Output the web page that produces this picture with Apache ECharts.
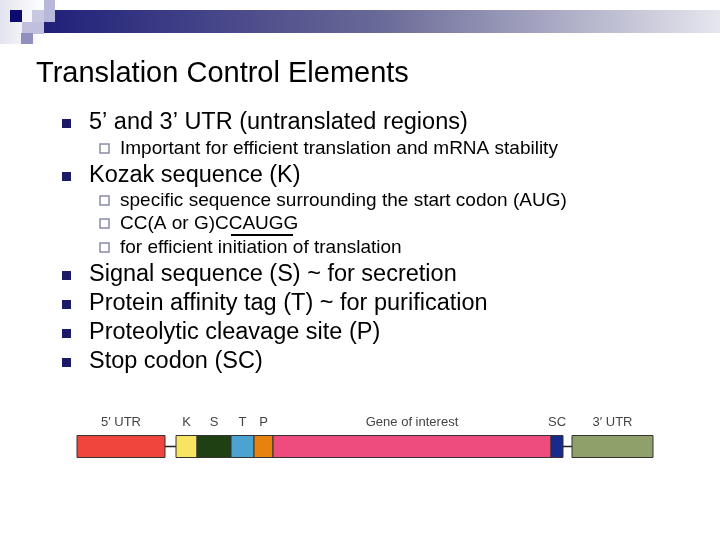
<!DOCTYPE html><html><head><meta charset="utf-8">
<script src="https://cdn.jsdelivr.net/npm/echarts@6/dist/echarts.min.js"></script>
<style>html,body{margin:0;background:#fff}#c{width:720px;height:540px}</style></head><body><div id="c"></div>
<script>
const segNames=["5′ UTR","","K","S","T","P","Gene of interest","SC","","3′ UTR"];
const segLengths=[88,11,21,34,23,19,278,12,9,81];
const segColors=["#f0453c",null,"#f7e463","#1f4012","#4aa3d0","#e8820e","#ee4b7f","#1a2a8c",null,"#8fa06b"];
const bullets1=[["5’ and 3’ UTR (untranslated regions)",123],["Kozak sequence (K)",176],["Signal sequence (S) ~ for secretion",275],["Protein affinity tag (T) ~ for purification",304],["Proteolytic cleavage site (P)",333],["Stop codon (SC)",362]];
const bullets2=[["Important for efficient translation and mRNA stability",149],["specific sequence surrounding the start codon (AUG)",201],["CC(A or G)CCAUGG",224],["for efficient initiation of translation",248]];
let acc=0;const segData=segLengths.map((l,i)=>{const d=[acc,acc+l,i];acc+=l;return d;});
const total=acc;
const F='"Liberation Sans",Arial,sans-serif';
const g=[];
g.push({type:'rect',shape:{x:44,y:10,width:676,height:23},style:{fill:new echarts.graphic.LinearGradient(0,0,1,0,[{offset:0,color:'#20207a'},{offset:0.5,color:'#6a6a98'},{offset:1,color:'#e6e6ee'}])}});
g.push({type:'rect',shape:{x:0,y:0,width:44,height:44},style:{fill:new echarts.graphic.LinearGradient(0,0,1,0,[{offset:0,color:'#e4e4f0'},{offset:1,color:'#ffffff'}])}});
g.push({type:'rect',shape:{x:10,y:10,width:12,height:12},style:{fill:'#0c0c70'}});
g.push({type:'rect',shape:{x:32,y:10,width:22,height:12},style:{fill:'#c8c8e2'}});
g.push({type:'rect',shape:{x:44,y:0,width:11,height:22},style:{fill:'#b8b8da'}});
g.push({type:'rect',shape:{x:22,y:22,width:22,height:12},style:{fill:'#c0c0de'}});
g.push({type:'rect',shape:{x:21,y:33,width:12,height:11},style:{fill:'#9090c0'}});
g.push({type:'text',x:36,y:74,style:{text:'Translation Control Elements',font:'29px '+F,fill:'#000',verticalAlign:'middle'}});
bullets1.forEach(([t,y])=>{g.push({type:'rect',shape:{x:62,y:y-4,width:9,height:9},style:{fill:'#1a1a66'}});g.push({type:'text',x:89,y:y,style:{text:t,font:'23.5px '+F,fill:'#000',verticalAlign:'middle'}});});
bullets2.forEach(([t,y])=>{g.push({type:'rect',shape:{x:100,y:y-5,width:9,height:9},style:{fill:'none',stroke:'#8a8aaa',lineWidth:1.5}});g.push({type:'text',x:120,y:y,style:{text:t,font:'19px '+F,fill:'#000',verticalAlign:'middle'}});});
g.push({type:'line',shape:{x1:231,y1:235,x2:293,y2:235},style:{stroke:'#000',lineWidth:2}});
const chart=echarts.init(document.getElementById('c'));
chart.setOption({animation:false,graphic:g,
grid:{left:77,width:576,top:397,height:110},
xAxis:{type:'value',min:0,max:total,show:false},
yAxis:{type:'value',min:0,max:10,show:false},
series:[{type:'custom',data:segData,renderItem:(p,api)=>{
 const s=api.value(0),e=api.value(1),i=api.value(2);
 const a=api.coord([s,6.5]),b=api.coord([e,4.5]);
 const ch=[];
 if(segColors[i]){ch.push({type:'rect',shape:{x:a[0],y:a[1],width:b[0]-a[0],height:b[1]-a[1]},style:{fill:segColors[i],stroke:'#333',lineWidth:1}});
 ch.push({type:'text',style:{text:segNames[i],x:(a[0]+b[0])/2,y:a[1]-13,align:'center',verticalAlign:'middle',font:'13px '+F,fill:'#444'}});}
 else{ch.push({type:'line',shape:{x1:a[0],y1:(a[1]+b[1])/2,x2:b[0],y2:(a[1]+b[1])/2},style:{stroke:'#222',lineWidth:1.5}});}
 return {type:'group',children:ch};}}]});
</script></body></html>
